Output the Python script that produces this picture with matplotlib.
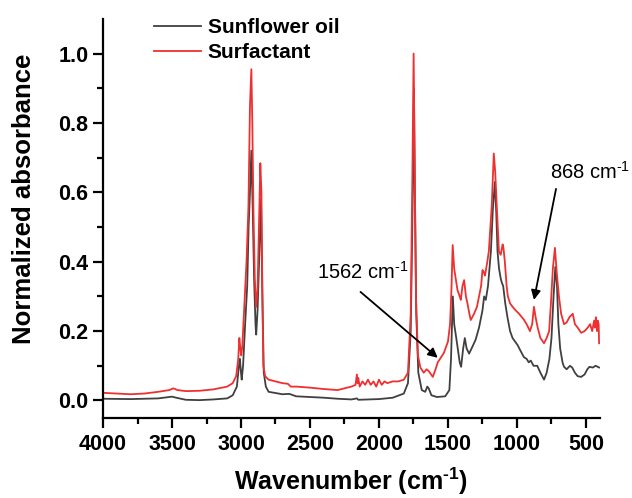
import numpy as np
import matplotlib
matplotlib.use("Agg")
import matplotlib.pyplot as plt

plt.rcParams['font.family'] = ['Liberation Sans', 'DejaVu Sans']
plt.rcParams['mathtext.fontset'] = 'custom'
plt.rcParams['mathtext.rm'] = 'Liberation Sans'
plt.rcParams['mathtext.bf'] = 'Liberation Sans:bold'

# Sunflower oil spectrum (wavenumber, normalized absorbance)
oil_wn = [4000, 3800, 3600, 3500, 3470, 3400, 3300, 3200, 3100, 3060, 3030, 3015,
          3008, 3000, 2995, 2985, 2970, 2955, 2945, 2935, 2925, 2915, 2905, 2895,
          2890, 2880, 2865, 2855, 2845, 2835, 2820, 2800, 2700, 2650, 2600, 2500,
          2400, 2300, 2200, 2160, 2150, 2000, 1900, 1820, 1790, 1770, 1755, 1747,
          1740, 1730, 1715, 1690, 1665, 1650, 1640, 1620, 1580, 1520, 1490, 1478,
          1465, 1455, 1440, 1431, 1415, 1405, 1390, 1378, 1365, 1347, 1335, 1323,
          1300, 1275, 1250, 1238, 1226, 1210, 1189, 1175, 1160, 1150, 1141, 1130,
          1117, 1110, 1100, 1085, 1069, 1050, 1032, 996, 970, 950, 930, 915, 900,
          880, 853, 830, 804, 785, 765, 750, 735, 722, 710, 700, 687, 670, 659,
          640, 616, 600, 580, 560, 535, 510, 490, 475, 450, 430, 414, 405]
oil_abs = [0.005, 0.004, 0.006, 0.011, 0.008, 0.002, 0.001, 0.003, 0.006, 0.015, 0.04, 0.10,
           0.12, 0.08, 0.06, 0.10, 0.22, 0.33, 0.50, 0.60, 0.72, 0.55, 0.35, 0.22,
           0.19, 0.26, 0.45, 0.58, 0.30, 0.08, 0.04, 0.025, 0.018, 0.019, 0.012, 0.010,
           0.008, 0.005, 0.003, 0.006, 0.002, 0.004, 0.008, 0.02, 0.05, 0.20, 0.60, 0.90,
           0.60, 0.25, 0.08, 0.03, 0.025, 0.04, 0.035, 0.015, 0.010, 0.012, 0.03, 0.12,
           0.30, 0.22, 0.18, 0.155, 0.11, 0.097, 0.15, 0.18, 0.15, 0.135, 0.145, 0.155,
           0.175, 0.21, 0.26, 0.30, 0.29, 0.33, 0.43, 0.55, 0.63, 0.54, 0.43, 0.38,
           0.35, 0.34, 0.33, 0.28, 0.24, 0.20, 0.18, 0.16, 0.14, 0.125, 0.12, 0.11, 0.115,
           0.10, 0.10, 0.08, 0.06, 0.08, 0.12, 0.18, 0.30, 0.385, 0.33, 0.22, 0.15, 0.11, 0.097,
           0.09, 0.10, 0.095, 0.08, 0.07, 0.068, 0.075, 0.09, 0.097, 0.095, 0.10, 0.097, 0.095]

# Surfactant spectrum
surf_wn = [4000, 3900, 3800, 3700, 3600, 3520, 3490, 3460, 3400, 3300, 3200, 3100,
           3060, 3035, 3020, 3012, 3005, 2998, 2990, 2975, 2960, 2946, 2935, 2925,
           2918, 2910, 2900, 2890, 2880, 2870, 2860, 2852, 2845, 2838, 2825, 2800,
           2750, 2700, 2660, 2640, 2600, 2500, 2400, 2300, 2250, 2200, 2170, 2160,
           2155, 2150, 2140, 2120, 2100, 2080, 2060, 2040, 2020, 2000, 1980, 1960,
           1940, 1900, 1860, 1820, 1790, 1770, 1758, 1749, 1742, 1732, 1718, 1700,
           1676, 1655, 1640, 1610, 1590, 1574, 1550, 1530, 1500, 1485, 1475, 1466,
           1455, 1431, 1415, 1407, 1395, 1383, 1370, 1359, 1345, 1335, 1311, 1290,
           1275, 1260, 1250, 1240, 1232, 1215, 1204, 1190, 1183, 1168, 1158, 1146,
           1131, 1118, 1104, 1098, 1088, 1075, 1066, 1050, 1032, 1010, 985, 965,
           950, 930, 906, 890, 877, 865, 850, 830, 804, 785, 767, 754,
           740, 725, 712, 696, 680, 659, 640, 620, 596, 580, 560, 535,
           510, 487, 470, 455, 441, 435, 428, 420, 414, 408, 405]
surf_abs = [0.022, 0.020, 0.018, 0.020, 0.025, 0.030, 0.035, 0.030, 0.027, 0.028, 0.032, 0.040,
            0.050, 0.070, 0.12, 0.18, 0.15, 0.13, 0.16, 0.28, 0.40, 0.56, 0.85, 0.955,
            0.80, 0.55, 0.35, 0.27, 0.32, 0.50, 0.684, 0.60, 0.30, 0.10, 0.07, 0.06,
            0.055, 0.050, 0.048, 0.040, 0.040, 0.037, 0.033, 0.030, 0.035, 0.040, 0.045, 0.075,
            0.050, 0.065, 0.040, 0.055, 0.045, 0.060, 0.045, 0.055, 0.040, 0.060, 0.045, 0.055,
            0.050, 0.055, 0.055, 0.060, 0.080, 0.25, 0.65, 1.0, 0.70, 0.30, 0.13, 0.095,
            0.080, 0.090, 0.085, 0.068, 0.090, 0.11, 0.125, 0.137, 0.17, 0.22, 0.32, 0.448,
            0.38, 0.318, 0.30, 0.29, 0.33, 0.347, 0.30, 0.28, 0.25, 0.232, 0.25, 0.27,
            0.30, 0.33, 0.376, 0.37, 0.36, 0.40, 0.43, 0.52, 0.56, 0.712, 0.66, 0.56,
            0.43, 0.42, 0.45, 0.44, 0.40, 0.33, 0.30, 0.28, 0.27, 0.26, 0.25, 0.24,
            0.233, 0.22, 0.20, 0.22, 0.27, 0.24, 0.21, 0.18, 0.165, 0.18, 0.20, 0.28,
            0.38, 0.44, 0.37, 0.30, 0.25, 0.22, 0.225, 0.24, 0.25, 0.22, 0.21, 0.195,
            0.20, 0.21, 0.22, 0.20, 0.23, 0.21, 0.24, 0.20, 0.23, 0.22, 0.165]

# annotation labels: (text left edge, arrow tail, arrow tip)
notes = [('1562', (2450, 0.37), (2134, 0.313), (1574, 0.123)),
         ('868', (760, 0.658), (717, 0.61), (877, 0.29))]

SUP = '$^{\\mathregular{' + '\u2010' + '1}}$'

fig = plt.figure(figsize=(6.32, 4.98), dpi=100)
ax = fig.add_axes([0.163, 0.161, 0.786, 0.801])

ax.plot(oil_wn, oil_abs, color='#404040', lw=1.3, label='Sunflower oil')
ax.plot(surf_wn, surf_abs, color='#ee3030', lw=1.3, label='Surfactant')

ax.set_xlim(4000, 400)
ax.set_ylim(-0.05, 1.1)
ax.set_xticks([4000, 3500, 3000, 2500, 2000, 1500, 1000, 500])
ax.set_xticks(np.arange(3750, 400, -500), minor=True)
ax.set_yticks([0.0, 0.2, 0.4, 0.6, 0.8, 1.0])
ax.set_yticks([0.1, 0.3, 0.5, 0.7, 0.9], minor=True)

for s in ['top', 'right']:
    ax.spines[s].set_visible(False)
for s in ['left', 'bottom']:
    ax.spines[s].set_linewidth(1.6)
ax.tick_params(which='major', direction='out', length=7, width=1.6, labelsize=15.5)
ax.tick_params(which='minor', direction='out', length=4, width=1.6)
ax.tick_params(axis='x', pad=5)
for lab in ax.get_xticklabels() + ax.get_yticklabels():
    lab.set_fontweight('bold')

ax.set_xlabel('Wavenumber (cm' + SUP + ')', fontsize=18, fontweight='bold', labelpad=7)
ax.set_ylabel('Normalized absorbance', fontsize=18.5, fontweight='bold', labelpad=10)
ax.yaxis.set_label_coords(-0.135, 0.55)

leg = ax.legend(loc='upper left', bbox_to_anchor=(0.085, 1.022), frameon=False,
                fontsize=15, handlelength=2.3, handletextpad=0.3, labelspacing=0.28,
                borderaxespad=0)
for t in leg.get_texts():
    t.set_fontweight('bold')

for name, txt_xy, tail, tip in notes:
    ax.text(txt_xy[0], txt_xy[1], name + ' cm' + SUP, fontsize=14.5,
            ha='left', va='center')
    ax.annotate('', xy=tip, xytext=tail,
                arrowprops=dict(arrowstyle='-|>', color='black', lw=1.3,
                                mutation_scale=14, shrinkA=0, shrinkB=0))

fig.savefig('out.png', dpi=100)
